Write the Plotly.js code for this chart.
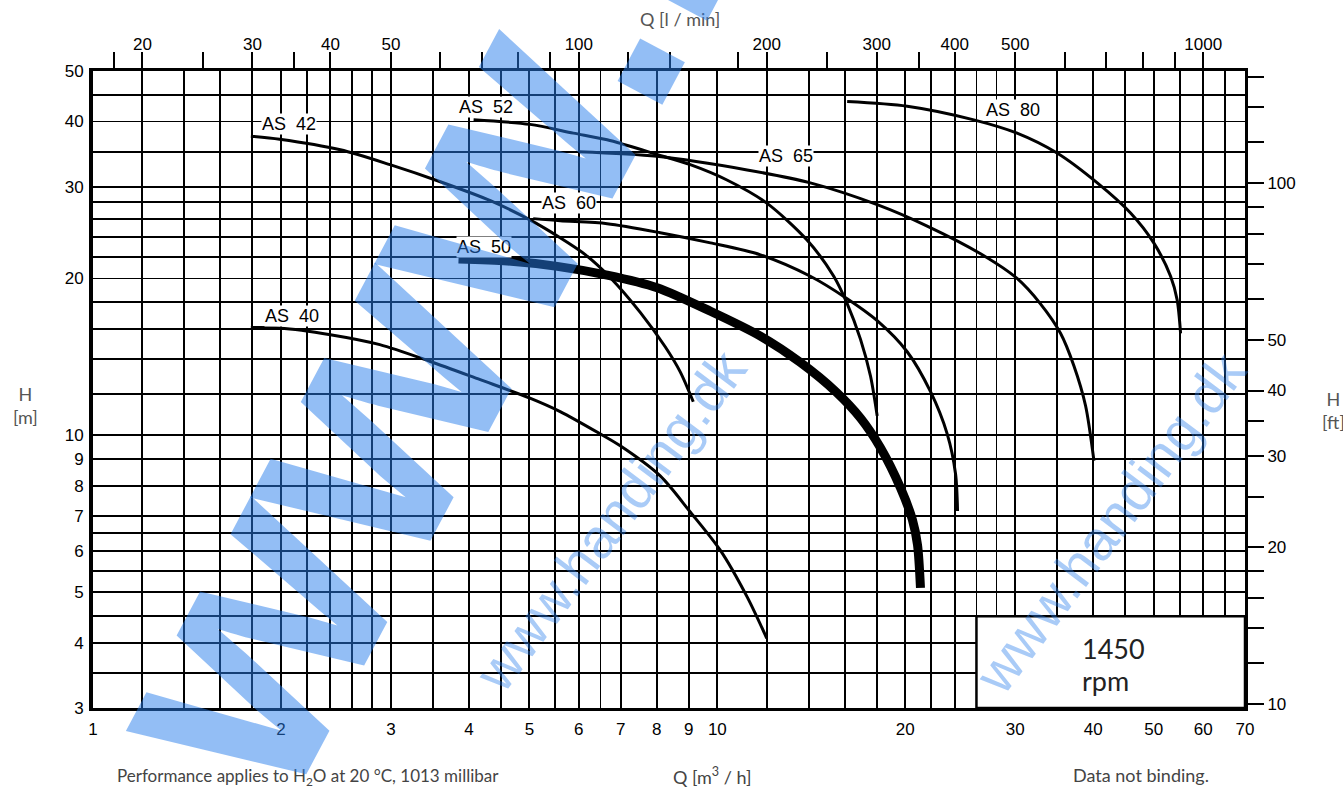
<!DOCTYPE html>
<html><head><meta charset="utf-8">
<script src="https://cdn.plot.ly/plotly-3.0.1.min.js"></script>
<style>html,body{margin:0;padding:0;background:#fff;}#chart{width:1343px;height:789px;}</style>
</head><body><div id="chart"></div>
<script>
// ---- Data (Q in m3/h, H in m) ----
const as40_q = [1.79, 1.99, 2.4, 2.88, 3.47, 4.17, 5.01, 5.6, 6.49, 6.99, 8.1, 9.05, 10.1, 11.16, 12.0];
const as40_h = [16.1, 16.07, 15.6, 14.93, 13.86, 12.79, 11.79, 11.11, 10.07, 9.55, 8.36, 7.13, 6.03, 4.9, 4.08];
const as42_q = [1.79, 1.99, 2.49, 2.99, 3.6, 4.33, 5.01, 5.6, 6.15, 6.74, 7.53, 8.25, 8.72, 9.15];
const as42_h = [37.5, 37.0, 35.3, 33.06, 30.66, 28.2, 25.9, 23.94, 22.2, 20.07, 17.2, 14.79, 13.24, 11.6];
const as52_q = [4.07, 5.01, 5.88, 6.66, 8.0, 9.05, 10.36, 12.0, 13.92, 15.36, 16.14, 16.95, 17.59, 18.03];
const as52_h = [40.3, 39.5, 38.0, 36.9, 34.6, 33.06, 30.9, 27.9, 23.7, 20.2, 17.9, 15.3, 13.0, 10.9];
const as60_q = [5.07, 5.6, 6.66, 8.1, 9.75, 11.72, 14.09, 16.14, 18.03, 20.14, 21.95, 23.34, 24.07, 24.25];
const as60_h = [26.05, 25.8, 25.47, 24.48, 23.4, 22.2, 20.2, 18.29, 16.6, 14.47, 12.13, 10.07, 8.44, 7.16];
const as50_q = [3.85, 4.61, 5.54, 6.66, 8.01, 9.75, 11.72, 13.58, 15.51, 16.95, 18.25, 19.65, 20.53, 20.92, 21.15];
const as50_h = [21.8, 21.6, 21.1, 20.3, 19.2, 17.3, 15.5, 13.8, 12.1, 10.8, 9.47, 7.93, 6.89, 6.17, 5.1];
const as65_q = [6.0, 8.0, 11.16, 14.09, 18.03, 21.68, 26.4, 30.2, 32.9, 35.45, 37.24, 38.88, 40.1];
const as65_h = [35.0, 34.3, 32.3, 30.5, 27.7, 25.2, 22.3, 20.0, 17.9, 15.7, 13.6, 11.4, 8.94];
const as80_q = [16.14, 20.14, 25.75, 30.2, 35.0, 40.6, 45.9, 50.0, 53.2, 54.5, 55.2];
const as80_h = [43.7, 42.8, 40.3, 38.0, 34.8, 30.5, 26.7, 23.4, 20.2, 18.2, 15.7];

const pumpNames = ["AS 40", "AS 42", "AS 52", "AS 60", "AS 50", "AS 65", "AS 80"];

// grid / tick values
const gridQ = [1,1.2,1.4,1.6,1.8,2,2.2,2.4,2.6,2.8,3,3.5,4,4.5,5,5.5,6,6.5,7,8,9,10,12,14,16,18,20,22,24,26,28,30,35,40,45,50,55,60,65,70];
const labelQ = [1,2,3,4,5,6,7,8,9,10,20,30,40,50,60,70];
const gridH = [3,3.5,4,4.5,5,5.5,6,6.5,7,8,9,10,12,14,16,18,20,22,24,26,28,30,35,40,45,50];
const labelH = [3,4,5,6,7,8,9,10,20,30,40,50];
const lpmTicks = [18,20,25,30,35,40,50,60,70,80,90,100,120,140,180,200,250,300,350,400,500,600,700,800,900,1000];
const lpmLabels = [20,30,40,50,100,200,300,400,500,1000];
const ftTicks = [10,12,14,16,18,20,25,30,35,40,50,60,70,80,90,100,120,140,160];
const ftLabels = [10,20,30,40,50,100];

const Q_MIN = 1, Q_MAX = 70, H_MIN = 3, H_MAX = 50;
const LPM_PER_M3H = 1000/60;
const M_PER_FT = 0.3048;
const box = {q0: 26, q1: 70, h0: 3, h1: 4.5};
const speedText = ["1450", "rpm"];

// ---- Layout geometry ----
const W = 1343, Hh = 789;
const M = {l: 93, r: 98, t: 71, b: 81};
const PW = W - M.l - M.r, PH = Hh - M.t - M.b;
const lg = Math.log10;
const xr = [lg(Q_MIN), lg(Q_MAX)], yr = [lg(H_MIN), lg(H_MAX)];
const qPaper = q => (lg(q) - xr[0]) / (xr[1] - xr[0]);
const hPaper = h => (lg(h) - yr[0]) / (yr[1] - yr[0]);
const pxX = x => (x - M.l) / PW;
const pxY = y => (M.t + PH - y) / PH;

const tickText = (vals, labels) => vals.map(v => labels.includes(v) ? String(v) : "");

const series = [
  [as40_q, as40_h, 3], [as42_q, as42_h, 3], [as52_q, as52_h, 3], [as60_q, as60_h, 3],
  [as50_q, as50_h, 9], [as65_q, as65_h, 3], [as80_q, as80_h, 3]
];
const traces = series.map((s, i) => ({
  type: "scatter", mode: "lines", x: s[0], y: s[1], name: pumpNames[i],
  line: {color: "#000", width: s[2], shape: "spline", smoothing: 0.8},
  hoverinfo: "skip", showlegend: false, xaxis: "x", yaxis: "y"
}));
// same curve in secondary units so the l/min and ft axes are drawn (invisible)
traces.push({
  type: "scatter", mode: "lines", x: as80_q.map(q => q * LPM_PER_M3H), y: as80_h.map(h => h / M_PER_FT),
  line: {color: "rgba(0,0,0,0)", width: 1}, opacity: 0, hoverinfo: "skip", showlegend: false, xaxis: "x2", yaxis: "y2"
});

// curve label positions (m3/h, m)
const labelPos = [[2.08, 16.96], [2.06, 39.6], [4.26, 42.7], [5.79, 27.95], [4.23, 23.0], [12.9, 34.3], [29.7, 42.0]];

const tickFont = {family: "Liberation Sans, Arial, sans-serif", size: 17, color: "#000"};
const noteFont = {family: "Lato, Open Sans, sans-serif", size: 17, color: "#444"};

const ann = (o) => Object.assign({xref: "paper", yref: "paper", xanchor: "center", yanchor: "middle", showarrow: false}, o);
const annotations = [];
pumpNames.forEach((n, i) => {
  annotations.push(ann({
    x: qPaper(labelPos[i][0]), y: hPaper(labelPos[i][1]),
    text: n.replace(" ", "\u00a0\u00a0"), bgcolor: "#fff", borderpad: 0,
    font: {family: "Liberation Sans, Arial, sans-serif", size: 18, color: "#000"}
  }));
});
annotations.push(
  ann({x: pxX(1080), y: pxY(648), xanchor: "left", text: speedText[0], font: {family: "Lato, sans-serif", size: 27, color: "#222"}}),
  ann({x: pxX(1080), y: pxY(680), xanchor: "left", text: speedText[1], font: {family: "Lato, sans-serif", size: 27, color: "#222"}}),
  ann({x: pxX(680), y: pxY(19), text: "Q [l / min]", font: {family: "Lato, sans-serif", size: 18, color: "#555"}}),
  ann({x: pxX(25), y: pxY(405), text: "H<br>[m]", font: {family: "Lato, sans-serif", size: 18, color: "#555"}}),
  ann({x: pxX(1333), y: pxY(411), text: "H<br>[ft]", font: {family: "Lato, sans-serif", size: 18, color: "#555"}}),
  ann({x: pxX(712), y: pxY(776), text: "Q [m<sup>3</sup> / h]", font: {family: "Lato, sans-serif", size: 18, color: "#444"}}),
  ann({x: pxX(115), y: pxY(777), xanchor: "left", text: "Performance applies to H<sub>2</sub>O at 20 °C, 1013 millibar", font: noteFont}),
  ann({x: pxX(1071), y: pxY(775), xanchor: "left", text: "Data not binding.", font: {family: "Lato, sans-serif", size: 18, color: "#444"}}),
  // watermarks
  ann({x: pxX(812), y: pxY(-426), text: "www.handing.dk", textangle: -62,
   font: {family: "Liberation Sans, Arial, sans-serif", size: 340, color: "rgba(40,125,235,0.5)", weight: 700}}),
  ann({x: pxX(610), y: pxY(520), text: "www.handing.dk", textangle: -53,
   font: {family: "Liberation Sans, Arial, sans-serif", size: 56, color: "rgba(40,125,235,0.4)"}}),
  ann({x: pxX(1110), y: pxY(522), text: "www.handing.dk", textangle: -53,
   font: {family: "Liberation Sans, Arial, sans-serif", size: 56, color: "rgba(40,125,235,0.4)"}})
);

const layout = {
  width: W, height: Hh, margin: M, paper_bgcolor: "#fff", plot_bgcolor: "#fff", showlegend: false,
  xaxis: {type: "log", range: xr, tickmode: "array", tickvals: gridQ, ticktext: tickText(gridQ, labelQ),
    showgrid: true, gridcolor: "#000", gridwidth: 1.9, ticks: "", showline: true, linecolor: "#000", linewidth: 3,
    zeroline: false, tickfont: tickFont, ticklabelstandoff: 4, fixedrange: true},
  yaxis: {type: "log", range: yr, tickmode: "array", tickvals: gridH, ticktext: tickText(gridH, labelH),
    showgrid: true, gridcolor: "#000", gridwidth: 1.9, ticks: "", showline: true, linecolor: "#000", linewidth: 4,
    zeroline: false, tickfont: tickFont, ticklabelstandoff: 2, fixedrange: true},
  xaxis2: {type: "log", overlaying: "x", side: "top", anchor: "y",
    range: [lg(Q_MIN * LPM_PER_M3H), lg(Q_MAX * LPM_PER_M3H)], tickmode: "array", tickvals: lpmTicks,
    ticktext: tickText(lpmTicks, lpmLabels), ticks: "outside", ticklen: 16, tickwidth: 2, tickcolor: "#000",
    showgrid: false, showline: true, linecolor: "#000", linewidth: 3, zeroline: false, tickfont: tickFont,
    ticklabelstandoff: -5, fixedrange: true},
  yaxis2: {type: "log", overlaying: "y", side: "right", anchor: "x",
    range: [lg(H_MIN / M_PER_FT), lg(H_MAX / M_PER_FT)], tickmode: "array", tickvals: ftTicks,
    ticktext: tickText(ftTicks, ftLabels), ticks: "outside", ticklen: 16, tickwidth: 2, tickcolor: "#000",
    showgrid: false, showline: true, linecolor: "#000", linewidth: 3, zeroline: false, tickfont: tickFont, fixedrange: true},
  shapes: [{type: "rect", xref: "paper", yref: "paper", x0: qPaper(box.q0), x1: qPaper(box.q1),
    y0: hPaper(box.h0), y1: hPaper(box.h1), fillcolor: "#fff", line: {color: "#000", width: 2.5}, layer: "above"}],
  annotations: annotations
};

Plotly.newPlot("chart", traces, layout, {staticPlot: true, displayModeBar: false});
</script></body></html>
